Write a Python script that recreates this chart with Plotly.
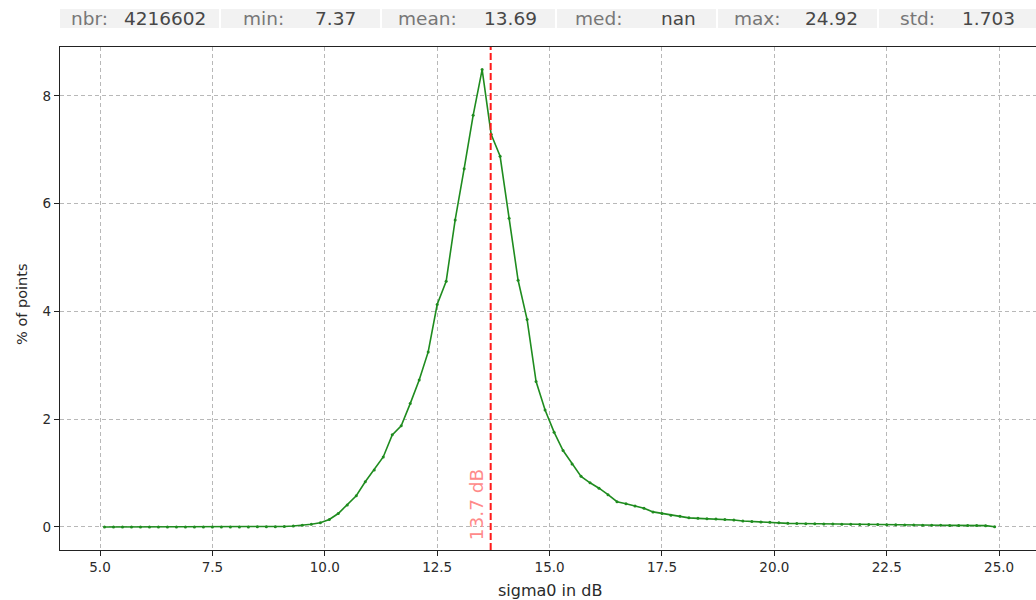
import plotly.graph_objects as go

# ---- data ----
sigma0_db = [5.1, 5.3, 5.5, 5.7, 5.9, 6.1, 6.3, 6.5, 6.7, 6.9,
             7.1, 7.3, 7.5, 7.7, 7.9, 8.1, 8.3, 8.5, 8.7, 8.9,
             9.1, 9.3, 9.5, 9.7, 9.9, 10.1, 10.3, 10.5, 10.7, 10.9,
             11.1, 11.3, 11.5, 11.7, 11.9, 12.1, 12.3, 12.5, 12.7, 12.9,
             13.1, 13.3, 13.5, 13.7, 13.9, 14.1, 14.3, 14.5, 14.7, 14.9,
             15.1, 15.3, 15.5, 15.7, 15.9, 16.1, 16.3, 16.5, 16.7, 16.9,
             17.1, 17.3, 17.5, 17.7, 17.9, 18.1, 18.3, 18.5, 18.7, 18.9,
             19.1, 19.3, 19.5, 19.7, 19.9, 20.1, 20.3, 20.5, 20.7, 20.9,
             21.1, 21.3, 21.5, 21.7, 21.9, 22.1, 22.3, 22.5, 22.7, 22.9,
             23.1, 23.3, 23.5, 23.7, 23.9, 24.1, 24.3, 24.5, 24.7, 24.9]

pct_points = [0.0, 0.0, 0.0, 0.0, 0.0, 0.0, 0.0, 0.0, 0.0, 0.0,
              0.0, 0.0, 0.001, 0.001, 0.001, 0.002, 0.002, 0.003, 0.004, 0.006,
              0.010, 0.018, 0.032, 0.052, 0.08, 0.14, 0.25, 0.41, 0.58, 0.84,
              1.06, 1.30, 1.71, 1.88, 2.29, 2.73, 3.25, 4.13, 4.56, 5.70,
              6.65, 7.64, 8.49, 7.29, 6.88, 5.73, 4.58, 3.85, 2.70, 2.17,
              1.76, 1.42, 1.17, 0.94, 0.82, 0.72, 0.60, 0.47, 0.43, 0.39,
              0.35, 0.28, 0.25, 0.22, 0.20, 0.17, 0.16, 0.155, 0.15, 0.14,
              0.13, 0.11, 0.10, 0.095, 0.09, 0.08, 0.068, 0.065, 0.062, 0.06,
              0.057, 0.055, 0.052, 0.05, 0.048, 0.046, 0.044, 0.042, 0.04, 0.038,
              0.036, 0.034, 0.032, 0.031, 0.03, 0.029, 0.028, 0.027, 0.025, 0.005]

mean_value = 13.69
mean_label = "13.7 dB"

stat_labels = ["nbr:", "min:", "mean:", "med:", "max:", "std:"]
stat_values = ["4216602", "7.37", "13.69", "nan", "24.92", "1.703"]

x_ticks = [5.0, 7.5, 10.0, 12.5, 15.0, 17.5, 20.0, 22.5, 25.0]
y_ticks = [0, 2, 4, 6, 8]

# ---- layout geometry (pixels) ----
W, H = 1036, 600
ML, MR, MT, MB = 60, 0, 47, 50
PW = W - ML - MR
PH = H - MT - MB


def px_x(p):
    return (p - ML) / PW


def px_y(p):
    return (H - MB - p) / PH


FONT = "DejaVu Sans"

fig = go.Figure()
fig.add_trace(go.Scatter(
    x=sigma0_db, y=pct_points, mode="lines+markers",
    line=dict(color="#1f8c1f", width=1.6),
    marker=dict(color="#1f8c1f", size=3),
    showlegend=False, hoverinfo="x+y",
))

shapes = []
annotations = []

# mean line
shapes.append(dict(type="line", xref="x", yref="paper", x0=mean_value, x1=mean_value,
                   y0=0, y1=1, line=dict(color="#ff1a1a", width=2, dash="7px,3px"), layer="above"))
annotations.append(dict(x=mean_value, y=-0.28, xref="x", yref="y", text=mean_label,
                        textangle=-90, xanchor="right", yanchor="bottom", showarrow=False,
                        xshift=-2, font=dict(family=FONT, size=18.5, color="#ff8a8a")))

# stats bar
cells = [(60, 219), (221, 380), (382, 555), (557, 716), (718, 877), (879, 1040)]
label_left = [70, 242, 397, 574, 733, 899]
value_right = [207, 357, 538, 697, 859, 1016]
bar_top, bar_bot = 9, 28
yc = px_y(18.5)
for (c0, c1), lab, val, lx, vx in zip(cells, stat_labels, stat_values, label_left, value_right):
    shapes.append(dict(type="rect", xref="paper", yref="paper", x0=px_x(c0), x1=px_x(c1),
                       y0=px_y(bar_bot), y1=px_y(bar_top), fillcolor="#f2f2f2",
                       line=dict(width=0), layer="below"))
    annotations.append(dict(x=px_x(lx - 1), y=yc, xref="paper", yref="paper", text=lab,
                            xanchor="left", yanchor="middle", showarrow=False,
                            font=dict(family=FONT, size=18.5, color="#777777")))
    annotations.append(dict(x=px_x(vx + 1), y=yc, xref="paper", yref="paper", text=val,
                            xanchor="right", yanchor="middle", showarrow=False,
                            font=dict(family=FONT, size=18.5, color="#474747")))

# axis titles
annotations.append(dict(x=px_x(550), y=px_y(590), xref="paper", yref="paper",
                        text="sigma0 in dB", showarrow=False, xanchor="center", yanchor="middle",
                        font=dict(family=FONT, size=16, color="#2a2a2a")))
annotations.append(dict(x=px_x(22), y=px_y(304), xref="paper", yref="paper",
                        text="% of points", showarrow=False, textangle=-90,
                        xanchor="center", yanchor="middle",
                        font=dict(family=FONT, size=14.5, color="#2a2a2a")))

fig.update_layout(
    width=W, height=H,
    margin=dict(l=ML, r=MR, t=MT, b=MB, pad=0),
    paper_bgcolor="white", plot_bgcolor="white",
    shapes=shapes, annotations=annotations,
    font=dict(family=FONT, size=14, color="#2a2a2a"),
    xaxis=dict(range=[4.11, 25.82], tickvals=x_ticks, ticktext=[f"{v:.1f}" for v in x_ticks],
               showgrid=True, gridcolor="#b8b8b8", griddash="4px,3px", gridwidth=1,
               showline=True, linecolor="#222", linewidth=1.2, mirror=True,
               ticks="outside", ticklen=5, tickwidth=1.2, tickcolor="#222",
               zeroline=False, tickfont=dict(family=FONT, size=13.5, color="#2a2a2a")),
    yaxis=dict(range=[-0.427, 8.909], tickvals=y_ticks, ticktext=[str(v) for v in y_ticks],
               showgrid=True, gridcolor="#b8b8b8", griddash="4px,3px", gridwidth=1,
               showline=True, linecolor="#222", linewidth=1.2, mirror=False,
               ticks="outside", ticklen=5, tickwidth=1.2, tickcolor="#222",
               zeroline=False, tickfont=dict(family=FONT, size=13.5, color="#2a2a2a")),
)

fig.write_html("out.html")
